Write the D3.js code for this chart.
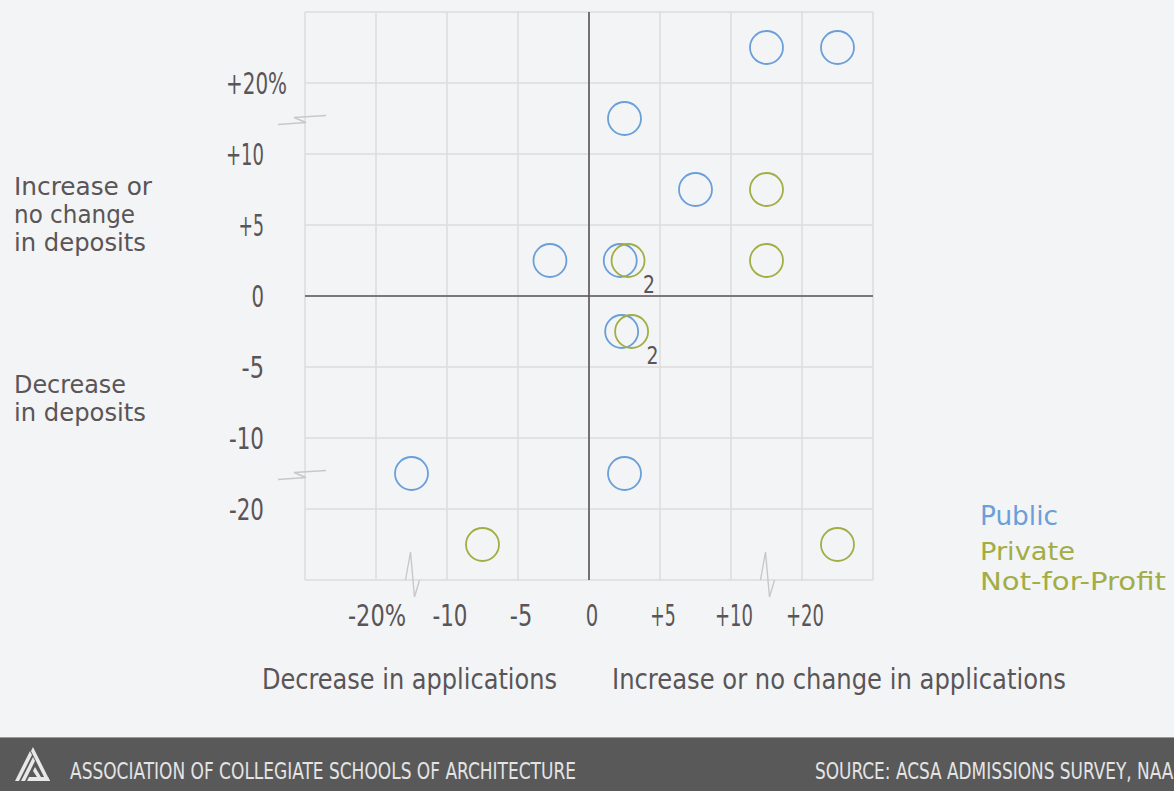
<!DOCTYPE html>
<html>
<head>
<meta charset="utf-8">
<script src="https://cdn.jsdelivr.net/npm/d3@7"></script>
<style>
  body { margin: 0; background: #f3f4f6; }
  svg { display: block; }
  text { font-family: "Liberation Sans Narrow", "DejaVu Sans Condensed", "Roboto", sans-serif; font-stretch: condensed; }
</style>
</head>
<body>
<div id="chart"></div>
<script>
// tick labels, placed on grid lines -3..3 (left to right / top to bottom)
var xTickLabels = ['-20%', '-10', '-5', '0', '+5', '+10', '+20'];
var yTickLabels = ['+20%', '+10', '+5', '0', '-5', '-10', '-20'];

// schools, in grid units (cells sit between the tick lines)
var publicX = [2.5, 3.5, 0.5, 1.5, -0.55, 0.44, 0.46, -2.5, 0.5];
var publicY = [3.5, 3.5, 2.5, 1.5, 0.5, 0.5, -0.5, -2.5, -2.5];
var privateX = [2.5, 0.55, 2.5, 0.6, -1.5, 3.5];
var privateY = [1.5, 0.5, 0.5, -0.5, -3.5, -3.5];
var privateCount = [1, 2, 1, 2, 1, 1];

var legendLabels = ['Public', 'Private', 'Not-for-Profit'];

var width = 1174, height = 791;
var blue = '#6b9fd9', green = '#a2ad45', textColor = '#5a5556';

var svg = d3.select('#chart').append('svg').attr('width', width).attr('height', height);
svg.append('rect').attr('width', width).attr('height', height).attr('fill', '#f3f4f6');

var x = d3.scaleLinear().domain([-4, 4]).range([305, 873]);
var y = d3.scaleLinear().domain([-4, 4]).range([580, 12]);
var gridSteps = d3.range(-4, 5);

// rough glyph widths of the narrow face used in the original
function labelWidth(s) {
    var w = 0;
    s.split('').forEach(function (c) {
        w += c === '%' ? 23 : c === '+' ? 13 : c === '-' ? 10 : 12.5;
    });
    return w;
}

// grid
svg.selectAll('.vgrid').data(gridSteps).enter().append('line')
    .attr('x1', x).attr('x2', x).attr('y1', y(4)).attr('y2', y(-4))
    .style('stroke', '#dcdcdc').style('stroke-width', 1.5);
svg.selectAll('.hgrid').data(gridSteps).enter().append('line')
    .attr('y1', y).attr('y2', y).attr('x1', x(-4)).attr('x2', x(4))
    .style('stroke', '#dcdcdc').style('stroke-width', 1.5);

// zero axes
svg.append('line').attr('x1', x(0)).attr('x2', x(0)).attr('y1', y(4)).attr('y2', y(-4))
    .style('stroke', '#5a5556').style('stroke-width', 1.6);
svg.append('line').attr('y1', y(0)).attr('y2', y(0)).attr('x1', x(-4)).attr('x2', x(4))
    .style('stroke', '#5a5556').style('stroke-width', 1.6);

// scale breaks
var breakLine = d3.line();
function yBreak(v) {
    var c = y(v);
    return breakLine([[278, c + 6], [306, c + 4], [294, c - 1], [326, c - 3]]);
}
function xBreak(v) {
    var c = x(v);
    return breakLine([[c - 6, y(-4)], [c - 1, y(-4) - 28], [c + 3, y(-4) + 17], [c + 8, y(-4)]]);
}
[2.5, -2.5].forEach(function (v) {
    svg.append('path').attr('d', yBreak(v)).style('fill', 'none').style('stroke', '#c8c8c8').style('stroke-width', 1.4);
});
[-2.5, 2.5].forEach(function (v) {
    svg.append('path').attr('d', xBreak(v)).style('fill', 'none').style('stroke', '#c8c8c8').style('stroke-width', 1.4);
});

// y tick labels (number right-aligned at 264, % hanging past it)
svg.selectAll('.ytick').data(yTickLabels).enter().append('text')
    .attr('x', function (d) { return 264 - labelWidth(d.replace('%', '')); })
    .attr('y', function (d, i) { return y(3 - i) + 11; })
    .attr('textLength', function (d) { return labelWidth(d); }).attr('lengthAdjust', 'spacingAndGlyphs')
    .style('font-size', '30px').style('fill', textColor)
    .text(function (d) { return d; });

// x tick labels
svg.selectAll('.xtick').data(xTickLabels).enter().append('text')
    .attr('x', function (d, i) { return x(i - 3) + (d.indexOf('%') >= 0 ? 1 : 3); })
    .attr('y', 626)
    .attr('textLength', function (d) { return labelWidth(d); }).attr('lengthAdjust', 'spacingAndGlyphs')
    .style('text-anchor', 'middle').style('font-size', '30px').style('fill', textColor)
    .text(function (d) { return d; });

// side titles, one text block each
var sideBlocks = [
    [['Increase or', 195, 138], ['no change', 223, 121], ['in deposits', 251, 132]],
    [['Decrease', 393, 112], ['in deposits', 421, 132]]
];
sideBlocks.forEach(function (block) {
    var t = svg.append('text').style('font-size', '24px').style('fill', textColor);
    block.forEach(function (d) {
        t.append('tspan').attr('x', 14).attr('y', d[1])
            .attr('textLength', d[2]).attr('lengthAdjust', 'spacingAndGlyphs').text(d[0]);
    });
});

svg.append('text').attr('x', 262).attr('y', 689).attr('textLength', 295).attr('lengthAdjust', 'spacingAndGlyphs')
    .style('font-size', '29px').style('fill', textColor).text('Decrease in applications');
svg.append('text').attr('x', 612).attr('y', 689).attr('textLength', 454).attr('lengthAdjust', 'spacingAndGlyphs')
    .style('font-size', '29px').style('fill', textColor).text('Increase or no change in applications');

// circles
var pub = d3.zip(publicX, publicY);
var priv = d3.zip(privateX, privateY, privateCount);
svg.selectAll('.pub').data(pub).enter().append('circle')
    .attr('cx', function (d) { return x(d[0]); }).attr('cy', function (d) { return y(d[1]); })
    .attr('r', 16.5).style('fill', 'none').style('stroke', blue).style('stroke-width', 1.8);
svg.selectAll('.priv').data(priv).enter().append('circle')
    .attr('cx', function (d) { return x(d[0]); }).attr('cy', function (d) { return y(d[1]); })
    .attr('r', 16.5).style('fill', 'none').style('stroke', green).style('stroke-width', 1.8);
svg.selectAll('.count').data(priv.filter(function (d) { return d[2] > 1; })).enter().append('text')
    .attr('x', function (d) { return x(d[0]) + 15; }).attr('y', function (d) { return y(d[1]) + 32; })
    .attr('textLength', 12).attr('lengthAdjust', 'spacingAndGlyphs')
    .style('font-size', '24px').style('fill', textColor).text(function (d) { return d[2]; });

// legend
svg.append('text').attr('x', 980).attr('y', 525).attr('textLength', 78).attr('lengthAdjust', 'spacingAndGlyphs')
    .style('font-size', '27px').style('fill', blue).text(legendLabels[0]);
var privLegend = svg.append('text').style('font-size', '25px').style('fill', green);
privLegend.append('tspan').attr('x', 980).attr('y', 560).attr('textLength', 95).attr('lengthAdjust', 'spacingAndGlyphs').text(legendLabels[1]);
privLegend.append('tspan').attr('x', 980).attr('y', 590).attr('textLength', 186).attr('lengthAdjust', 'spacingAndGlyphs').text(legendLabels[2]);

// footer
svg.append('rect').attr('x', 0).attr('y', 737).attr('width', width).attr('height', 54).attr('fill', '#595959');
svg.append('line').attr('x1', 0).attr('x2', width).attr('y1', 737.5).attr('y2', 737.5).style('stroke', '#9a9a9a').style('stroke-width', 1);
var logo = svg.append('g').attr('transform', 'translate(15,747)').style('fill', '#e8e8e8');
logo.append('path').attr('d', 'M0,34 L4,34 L17,8 L15,4 Z');
logo.append('path').attr('d', 'M6,34 L10,34 L20,14 L18,10 Z');
logo.append('path').attr('d', 'M12,34 L35,34 L33,30 L14,30 Z');
logo.append('path').attr('d', 'M18,0 L35,34 L31,34 L16,4 Z');
logo.append('path').attr('d', 'M20,20 L26,30 L22,30 L18,24 Z');
svg.append('text').attr('x', 70).attr('y', 779).attr('textLength', 506).attr('lengthAdjust', 'spacingAndGlyphs')
    .style('font-size', '23px').style('fill', '#e4e4e4').text('ASSOCIATION OF COLLEGIATE SCHOOLS OF ARCHITECTURE');
svg.append('text').attr('x', 815).attr('y', 779).attr('textLength', 370).attr('lengthAdjust', 'spacingAndGlyphs')
    .style('font-size', '23px').style('fill', '#e4e4e4').text('SOURCE: ACSA ADMISSIONS SURVEY, NAAB');
</script>
</body>
</html>
